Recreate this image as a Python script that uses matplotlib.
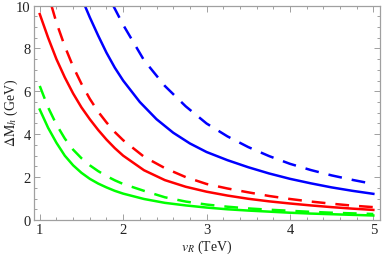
#!/usr/bin/env python

import matplotlib
matplotlib.use("Agg")
import matplotlib.pyplot as plt
from matplotlib.ticker import MultipleLocator

# values (vR in TeV, Delta M_h in GeV)
x_fine = [1.0, 1.1, 1.2, 1.3, 1.4, 1.5, 1.6, 1.7, 1.8, 1.9, 2.0,
          2.25, 2.5, 2.75, 3.0, 3.25, 3.5, 3.75, 4.0, 4.25, 4.5, 4.75, 5.0]

green_solid = [5.15, 4.3, 3.6, 3.0, 2.55, 2.2, 1.92, 1.7, 1.52, 1.36, 1.23,
               0.98, 0.8, 0.68, 0.58, 0.5, 0.44, 0.39, 0.34, 0.3, 0.27, 0.24, 0.21]
green_dashed = [6.25, 5.25, 4.45, 3.8, 3.28, 2.88, 2.55, 2.28, 2.05, 1.85, 1.68,
                1.36, 1.06, 0.86, 0.72, 0.62, 0.54, 0.48, 0.43, 0.38, 0.34, 0.31, 0.28]
red_solid = [9.6, 8.5, 7.5, 6.65, 5.9, 5.25, 4.7, 4.2, 3.75, 3.35, 3.0,
             2.32, 1.86, 1.55, 1.32, 1.14, 0.99, 0.87, 0.77, 0.68, 0.6, 0.53, 0.47]

x_red_dashed = [1.14, 1.2, 1.3, 1.4, 1.5, 1.6, 1.7, 1.8, 1.9, 2.0,
                2.25, 2.5, 2.75, 3.0, 3.25, 3.5, 3.75, 4.0, 4.25, 4.5, 4.75, 5.0]
red_dashed = [10.0, 9.2, 8.1, 7.15, 6.35, 5.65, 5.05, 4.55, 4.1, 3.72,
              2.95, 2.42, 2.0, 1.68, 1.47, 1.29, 1.12, 0.98, 0.86, 0.76, 0.67, 0.6]

x_blue_solid = [1.54, 1.6, 1.7, 1.8, 1.9, 2.0, 2.2, 2.4, 2.6, 2.8, 3.0,
                3.25, 3.5, 3.75, 4.0, 4.25, 4.5, 4.75, 5.0]
blue_solid = [10.0, 9.45, 8.6, 7.8, 7.1, 6.5, 5.5, 4.7, 4.07, 3.57, 3.17,
              2.79, 2.46, 2.17, 1.92, 1.71, 1.52, 1.36, 1.22]

x_blue_dashed = [1.88, 2.0, 2.25, 2.5, 2.75, 3.0, 3.25, 3.5, 3.75, 4.0,
                 4.25, 4.5, 4.75, 5.0]
blue_dashed = [10.0, 9.1, 7.45, 6.25, 5.3, 4.5, 3.9, 3.4, 2.98, 2.62,
               2.33, 2.08, 1.87, 1.68]

plt.rcParams['mathtext.fontset'] = 'stix'
plt.rcParams['font.family'] = ['Liberation Serif', 'DejaVu Serif']

fig = plt.figure(figsize=(3.82, 2.55), dpi=100)
ax = fig.add_axes([0.0877, 0.1333, 0.9071, 0.8412])

lw = 1.8
dash = (5.5, 4.0)
ax.plot(x_fine, green_solid, color=(0, 1, 0), lw=lw)
ax.plot(x_fine, green_dashed, color=(0, 1, 0), lw=lw, dashes=dash)
ax.plot(x_fine, red_solid, color=(1, 0, 0), lw=lw)
ax.plot(x_red_dashed, red_dashed, color=(1, 0, 0), lw=lw, dashes=dash)
ax.plot(x_blue_solid, blue_solid, color=(0, 0, 1), lw=lw)
ax.plot(x_blue_dashed, blue_dashed, color=(0, 0, 1), lw=lw, dashes=dash)

ax.set_xlim(0.925, 5.08)
ax.set_ylim(0, 10)

ax.xaxis.set_major_locator(MultipleLocator(1))
ax.xaxis.set_minor_locator(MultipleLocator(0.2))
ax.yaxis.set_major_locator(MultipleLocator(2))
ax.yaxis.set_minor_locator(MultipleLocator(0.5))

frame = '#a0a0a0'
for s in ax.spines.values():
    s.set_color(frame)
    s.set_linewidth(0.9)
ax.tick_params(which='both', direction='in', top=True, right=True,
               color=frame, width=0.7, labelsize=10.5, labelcolor='#222222')
ax.tick_params(which='major', length=4)
ax.tick_params(which='minor', length=2.2)
ax.tick_params(axis='x', pad=2)
ax.tick_params(axis='y', pad=2)

# axis titles placed by hand so they stay inside the small canvas
fig.text(207 / 382, 1 - 247.5 / 255, r'$v_R$ (TeV)', fontsize=10,
         ha='center', va='center', color='#222222')
fig.text(11 / 382, 1 - 113 / 255, r'$\Delta\mathrm{M}_h$ (GeV)', fontsize=10,
         rotation=90, ha='center', va='center', color='#222222')

plt.savefig("out.png", dpi=100)
